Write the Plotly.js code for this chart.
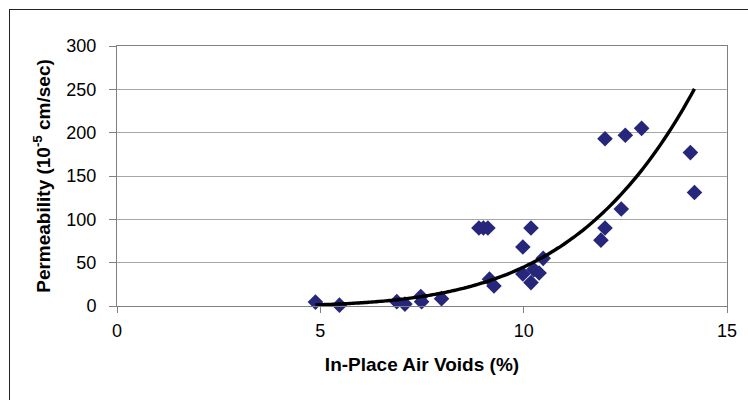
<!DOCTYPE html>
<html>
<head>
<meta charset="utf-8">
<script src="https://cdn.plot.ly/plotly-3.0.1.min.js"></script>
<style>
  html, body { margin: 0; padding: 0; background: #fff; }
  #wrap { position: relative; width: 748px; height: 400px; overflow: hidden; }
  #chart { width: 748px; height: 400px; }
  #frame { position: absolute; left: 9px; top: 9px; width: 745px; height: 400px; border: 1px solid #222; pointer-events: none; }
</style>
</head>
<body>
<div id="wrap"><div id="chart"></div><div id="frame"></div></div>
<script>
// In-place air voids (%)
const airVoids = [4.88, 5.47, 6.88, 7.08, 7.47, 7.49, 7.98, 8.9, 9.01, 9.12, 9.16, 9.27, 9.98, 9.98, 10.18, 10.18, 10.25, 10.38, 10.48, 11.9, 12.0, 12.0, 12.4, 12.5, 12.9, 14.1, 14.2];
// Permeability (10^-5 cm/sec)
const permeability = [4.5, 1.0, 5, 2.2, 11, 5, 8.5, 90, 90, 90, 31, 23, 68, 37, 90, 27, 42, 38, 55, 76, 90, 193, 112, 197, 205, 177, 131];
const xTicks = [0, 5, 10, 15];
const yTicks = [0, 50, 100, 150, 200, 250, 300];

// Power trendline (least squares on ln-ln, as spreadsheet "power" trendline)
function powerFit(xs, ys) {
  let n = xs.length, sx = 0, sy = 0, sxx = 0, sxy = 0;
  for (let i = 0; i < n; i++) {
    const lx = Math.log(xs[i]), ly = Math.log(ys[i]);
    sx += lx; sy += ly; sxx += lx * lx; sxy += lx * ly;
  }
  const c = (n * sxy - sx * sy) / (n * sxx - sx * sx);
  const a = Math.exp((sy - c * sx) / n);
  return { a, c };
}
const fit = powerFit(airVoids, permeability);
const xMin = Math.min(...airVoids), xMax = Math.max(...airVoids);
const trendX = [], trendY = [];
for (let i = 0; i <= 100; i++) {
  const x = xMin + (xMax - xMin) * i / 100;
  trendX.push(x);
  trendY.push(fit.a * Math.pow(x, fit.c));
}

const data = [
  {
    x: airVoids, y: permeability, type: 'scatter', mode: 'markers',
    marker: { symbol: 'diamond', size: 12, color: '#26267a' },
    showlegend: false, cliponaxis: false
  },
  {
    x: trendX, y: trendY, type: 'scatter', mode: 'lines',
    line: { color: '#000', width: 3.4, shape: 'spline' },
    showlegend: false
  }
];

const layout = {
  width: 748, height: 400,
  margin: { l: 117, r: 21, t: 46, b: 94 },
  paper_bgcolor: '#fff', plot_bgcolor: '#fff',
  font: { family: 'Liberation Sans, Arial, sans-serif', color: '#000', size: 18 },
  xaxis: {
    range: [0, 15], tickvals: xTicks, ticktext: xTicks.map(String),
    showgrid: false, zeroline: false,
    showline: true, linecolor: '#808080', linewidth: 1, mirror: true,
    ticks: 'outside', ticklen: 6, tickcolor: '#808080',
    tickfont: { size: 18 }, ticklabelstandoff: 2,
    title: { text: '<b>In-Place Air Voids (%)</b>', font: { size: 19 }, standoff: 18 }
  },
  yaxis: {
    range: [0, 300], tickvals: yTicks, ticktext: yTicks.map(String),
    showgrid: true, gridcolor: '#a6a6a6', gridwidth: 1, zeroline: false,
    showline: true, linecolor: '#808080', linewidth: 1, mirror: true,
    ticks: 'outside', ticklen: 7, tickcolor: '#808080',
    tickfont: { size: 18 }, ticklabelstandoff: 9,
    title: { text: '<b>Permeability (10<sup>-5</sup> cm/sec)</b>', font: { size: 19 }, standoff: 10 }
  }
};

Plotly.newPlot('chart', data, layout, { staticPlot: true });
</script>
</body>
</html>
